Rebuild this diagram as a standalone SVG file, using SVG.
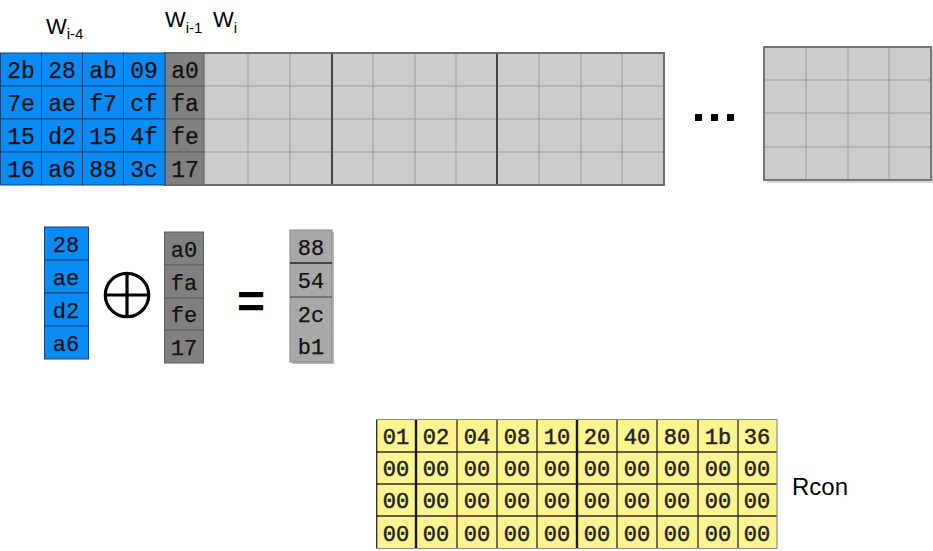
<svg xmlns="http://www.w3.org/2000/svg" width="933" height="551" viewBox="0 0 933 551">
<style>
.hdr{font-family:"Liberation Sans",Arial,sans-serif;font-size:22px;fill:#000}
.sub{font-size:15px}
.cell{font-family:"Liberation Mono","Courier New",monospace;font-size:23px;fill:#111;text-anchor:middle;stroke:#111;stroke-width:0.25}
.mid{font-size:22px}
.rc{font-family:"Liberation Mono","Courier New",monospace;font-size:22px;fill:#222;text-anchor:middle;stroke:#222;stroke-width:0.5}
.blue{fill:#0a8cf5;stroke:#15457a;stroke-width:1}
.dark{fill:#808080;stroke:#5e5e5e;stroke-width:1}
.light{fill:#cccccc}
.gl{stroke:#9a9a9a;stroke-width:1}
.sep{stroke:#444;stroke-width:2}
.yel{fill:#fcf38e}
.yl{stroke:#2a2a2a;stroke-width:1.3}
.yk{stroke:#1a1a1a;stroke-width:2.4}
</style>

<g id="headers">
<text class="hdr" x="46" y="34">W<tspan class="sub" dy="5">i-4</tspan></text>
<text class="hdr" x="165" y="27">W<tspan class="sub" dy="6">i-1</tspan></text>
<text class="hdr" x="213" y="27">W<tspan class="sub" dy="6">i</tspan></text>
</g>

<g id="key-schedule">
<rect class="light" x="165" y="53" width="499" height="132"/>
<g class="gl">
<line x1="204" y1="86" x2="664" y2="86"/>
<line x1="204" y1="119" x2="664" y2="119"/>
<line x1="204" y1="152" x2="664" y2="152"/>
<line x1="248" y1="53" x2="248" y2="185"/>
<line x1="290" y1="53" x2="290" y2="185"/>
<line x1="373" y1="53" x2="373" y2="185"/>
<line x1="415" y1="53" x2="415" y2="185"/>
<line x1="456" y1="53" x2="456" y2="185"/>
<line x1="539" y1="53" x2="539" y2="185"/>
<line x1="581" y1="53" x2="581" y2="185"/>
<line x1="622" y1="53" x2="622" y2="185"/>
</g>
<line class="sep" x1="332" y1="53" x2="332" y2="185"/>
<line class="sep" x1="497" y1="53" x2="497" y2="185"/>
<rect x="165" y="53" width="499" height="132" fill="none" stroke="#6e6e6e" stroke-width="2"/>
<rect class="dark" x="165" y="53" width="39" height="33"/>
<rect class="dark" x="165" y="86" width="39" height="33"/>
<rect class="dark" x="165" y="119" width="39" height="33"/>
<rect class="dark" x="165" y="152" width="39" height="33"/>
<g id="blue-block">
<rect class="blue" x="0.5" y="53" width="41" height="33"/><rect class="blue" x="41.5" y="53" width="41" height="33"/><rect class="blue" x="82.5" y="53" width="41" height="33"/><rect class="blue" x="123.5" y="53" width="41.5" height="33"/>
<rect class="blue" x="0.5" y="86" width="41" height="33"/><rect class="blue" x="41.5" y="86" width="41" height="33"/><rect class="blue" x="82.5" y="86" width="41" height="33"/><rect class="blue" x="123.5" y="86" width="41.5" height="33"/>
<rect class="blue" x="0.5" y="119" width="41" height="33"/><rect class="blue" x="41.5" y="119" width="41" height="33"/><rect class="blue" x="82.5" y="119" width="41" height="33"/><rect class="blue" x="123.5" y="119" width="41.5" height="33"/>
<rect class="blue" x="0.5" y="152" width="41" height="33"/><rect class="blue" x="41.5" y="152" width="41" height="33"/><rect class="blue" x="82.5" y="152" width="41" height="33"/><rect class="blue" x="123.5" y="152" width="41.5" height="33"/>
</g>
<g>
<text class="cell" x="21" y="78">2b</text><text class="cell" x="62" y="78">28</text><text class="cell" x="103" y="78">ab</text><text class="cell" x="144" y="78">09</text><text class="cell" x="185" y="78">a0</text>
<text class="cell" x="21" y="111">7e</text><text class="cell" x="62" y="111">ae</text><text class="cell" x="103" y="111">f7</text><text class="cell" x="144" y="111">cf</text><text class="cell" x="185" y="111">fa</text>
<text class="cell" x="21" y="144">15</text><text class="cell" x="62" y="144">d2</text><text class="cell" x="103" y="144">15</text><text class="cell" x="144" y="144">4f</text><text class="cell" x="185" y="144">fe</text>
<text class="cell" x="21" y="177">16</text><text class="cell" x="62" y="177">a6</text><text class="cell" x="103" y="177">88</text><text class="cell" x="144" y="177">3c</text><text class="cell" x="185" y="177">17</text>
</g>
</g>

<g id="ellipsis" fill="#000">
<rect x="695" y="114" width="7" height="7"/>
<rect x="711" y="114" width="7" height="7"/>
<rect x="727" y="114" width="7" height="7"/>
</g>

<g id="last-block">
<rect x="767" y="50" width="167" height="133" fill="#b0b0b0" opacity="0.5"/>
<rect class="light" x="764" y="47" width="167" height="133"/>
<g class="gl">
<line x1="764" y1="80" x2="931" y2="80"/>
<line x1="764" y1="113" x2="931" y2="113"/>
<line x1="764" y1="147" x2="931" y2="147"/>
<line x1="806" y1="47" x2="806" y2="180"/>
<line x1="848" y1="47" x2="848" y2="180"/>
<line x1="889" y1="47" x2="889" y2="180"/>
</g>
<rect x="764" y="47" width="167" height="133" fill="none" stroke="#777" stroke-width="2"/>
</g>

<g id="word-a">
<rect class="blue" x="44.5" y="227" width="44" height="33"/>
<rect class="blue" x="44.5" y="260" width="44" height="33"/>
<rect class="blue" x="44.5" y="293" width="44" height="33"/>
<rect class="blue" x="44.5" y="326" width="44" height="33"/>
<text class="cell mid" x="66" y="252">28</text>
<text class="cell mid" x="66" y="285">ae</text>
<text class="cell mid" x="66" y="318">d2</text>
<text class="cell mid" x="66" y="351">a6</text>
</g>

<g id="xor" fill="none" stroke="#000" stroke-width="3.2">
<circle cx="127" cy="295" r="21.7"/>
<line x1="127" y1="273" x2="127" y2="317"/>
<line x1="105" y1="295" x2="149" y2="295"/>
</g>

<g id="word-b">
<rect class="dark" x="164.5" y="232" width="39" height="33"/>
<rect class="dark" x="164.5" y="265" width="39" height="33"/>
<rect class="dark" x="164.5" y="298" width="39" height="32"/>
<rect class="dark" x="164.5" y="330" width="39" height="33"/>
<text class="cell mid" x="184" y="257">a0</text>
<text class="cell mid" x="184" y="290">fa</text>
<text class="cell mid" x="184" y="322">fe</text>
<text class="cell mid" x="184" y="355">17</text>
</g>

<g id="equals">
<text x="251" y="318" font-family="Liberation Sans, Arial, sans-serif" font-size="48" font-weight="bold" text-anchor="middle" fill="#000">=</text>
</g>

<g id="result">
<rect x="292" y="232" width="42" height="132" fill="#6a6a6a" opacity="0.45"/>
<rect x="290" y="230" width="42" height="132" fill="#a8a8a8" stroke="#8a8a8a" stroke-width="1"/>
<line x1="290" y1="263" x2="332" y2="263" stroke="#222" stroke-width="1.3"/>
<line x1="290" y1="297" x2="332" y2="297" stroke="#444" stroke-width="1.1"/>
<text class="cell mid" x="311" y="255">88</text>
<text class="cell mid" x="311" y="288">54</text>
<text class="cell mid" x="311" y="322">2c</text>
<text class="cell mid" x="311" y="354">b1</text>
</g>

<g id="rcon">
<rect class="yel" x="376" y="419" width="401" height="130"/>
<g class="yl">
<line x1="376" y1="452" x2="777" y2="452"/>
<line x1="376" y1="484" x2="777" y2="484"/>
<line x1="376" y1="516" x2="777" y2="516"/>
<line x1="457" y1="419" x2="457" y2="549"/>
<line x1="497" y1="419" x2="497" y2="549"/>
<line x1="537" y1="419" x2="537" y2="549"/>
<line x1="617" y1="419" x2="617" y2="549"/>
<line x1="657" y1="419" x2="657" y2="549"/>
<line x1="698" y1="419" x2="698" y2="549"/>
<line x1="738" y1="419" x2="738" y2="549"/>
<line x1="376.7" y1="419" x2="376.7" y2="549"/>
</g>
<line class="yk" x1="416" y1="419" x2="416" y2="549"/>
<line class="yk" x1="577" y1="419" x2="577" y2="549"/>
<line x1="376" y1="419.5" x2="777" y2="419.5" stroke="#8a8a8a" stroke-width="1"/>
<line x1="376" y1="548.5" x2="777" y2="548.5" stroke="#8a8a8a" stroke-width="1"/>
<line x1="777" y1="419" x2="777" y2="549" stroke="#8a8a8a" stroke-width="1.2"/>
<g>
<text class="rc" x="396" y="444">01</text><text class="rc" x="436" y="444">02</text><text class="rc" x="477" y="444">04</text><text class="rc" x="517" y="444">08</text><text class="rc" x="557" y="444">10</text><text class="rc" x="597" y="444">20</text><text class="rc" x="637" y="444">40</text><text class="rc" x="677" y="444">80</text><text class="rc" x="718" y="444">1b</text><text class="rc" x="757" y="444">36</text>
<text class="rc" x="396" y="476">00</text><text class="rc" x="436" y="476">00</text><text class="rc" x="477" y="476">00</text><text class="rc" x="517" y="476">00</text><text class="rc" x="557" y="476">00</text><text class="rc" x="597" y="476">00</text><text class="rc" x="637" y="476">00</text><text class="rc" x="677" y="476">00</text><text class="rc" x="718" y="476">00</text><text class="rc" x="757" y="476">00</text>
<text class="rc" x="396" y="508">00</text><text class="rc" x="436" y="508">00</text><text class="rc" x="477" y="508">00</text><text class="rc" x="517" y="508">00</text><text class="rc" x="557" y="508">00</text><text class="rc" x="597" y="508">00</text><text class="rc" x="637" y="508">00</text><text class="rc" x="677" y="508">00</text><text class="rc" x="718" y="508">00</text><text class="rc" x="757" y="508">00</text>
<text class="rc" x="396" y="541">00</text><text class="rc" x="436" y="541">00</text><text class="rc" x="477" y="541">00</text><text class="rc" x="517" y="541">00</text><text class="rc" x="557" y="541">00</text><text class="rc" x="597" y="541">00</text><text class="rc" x="637" y="541">00</text><text class="rc" x="677" y="541">00</text><text class="rc" x="718" y="541">00</text><text class="rc" x="757" y="541">00</text>
</g>
<text class="hdr" x="792" y="495" style="font-size:24px">Rcon</text>
</g>
</svg>
